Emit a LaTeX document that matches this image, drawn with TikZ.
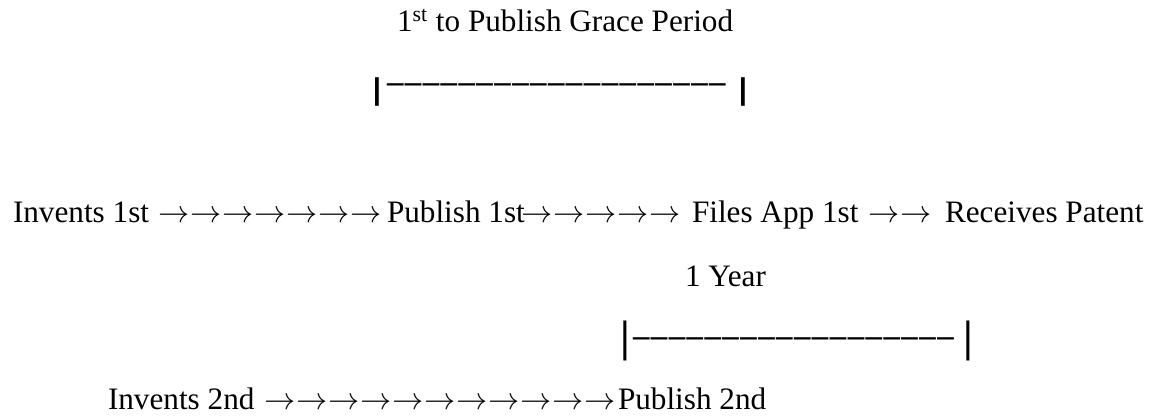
\documentclass[tikz,border=0pt]{standalone}
\usepackage{fontspec}
\setmainfont{Liberation Serif}
\newcommand\onearrow{\scalebox{1.56}{\fontsize{10}{12}\selectfont\(\rightarrow\)}}
\newcommand\dashrun[1]{\foreach \i in {1,...,#1}{\textendash\kern0.75pt}}
\newcommand\arrowrun[1]{\foreach \i in {1,...,#1}{\onearrow\kern0.4pt}}
\tikzset{
  txt/.style={anchor=base west, inner sep=0pt, outer sep=0pt, font=\fontsize{15.6}{18}\selectfont},
  arrowsrun/.style={anchor=base west, inner sep=0pt, outer sep=0pt, font=\fontsize{15.6}{18}\selectfont},
  dashes/.style={anchor=base west, inner sep=0pt, outer sep=0pt, font=\fontsize{16.4}{19}\selectfont\bfseries},
  bartop/.style={anchor=base west, inner sep=0pt, outer sep=0pt, font=\fontsize{15.7}{18}\selectfont\bfseries},
  barbot/.style={anchor=base west, inner sep=0pt, outer sep=0pt, font=\fontsize{22}{26}\selectfont\bfseries},
}
\begin{document}
\begin{tikzpicture}[x=0.5pt, y=-0.5pt]
\useasboundingbox (0,0) rectangle (1152,417);
% top span: 1st to publish grace period
\node[txt] (title) at (397,32) {1\textsuperscript{st} to Publish Grace Period};
\node[bartop] (gl) at (371,99.6) {\scalebox{1.7}[1]{|}};
\node[dashes] (gd) at (387,93) {\dashrun{19}};
\node[bartop] (gr) at (737,99.6) {\scalebox{1.7}[1]{|}};
% main line
\node[txt] (inv1) at (13,222) {Invents 1st};
\node[arrowsrun] (a1) at (158,222) {\arrowrun{7}};
\node[txt] (pub1) at (387,222) {Publish 1st};
\node[arrowsrun] (a2) at (521,222) {\arrowrun{5}};
\node[txt] (files) at (692,222) {Files App 1st};
\node[arrowsrun] (a3) at (868,222) {\arrowrun{2}};
\node[txt] (rec) at (945,222) {Receives Patent};
% one year span
\node[txt] (year) at (685,286) {1 Year};
\node[barbot] (yl) at (620,351.8) {|};
\node[dashes] (yd) at (633,346) {\dashrun{18}};
\node[barbot] (yr) at (963,351.8) {|};
% second line
\node[txt] (inv2) at (108,409) {Invents 2nd};
\node[arrowsrun] (a4) at (264,409) {\arrowrun{11}};
\node[txt] (pub2) at (618,409) {Publish 2nd};
\end{tikzpicture}
\end{document}
